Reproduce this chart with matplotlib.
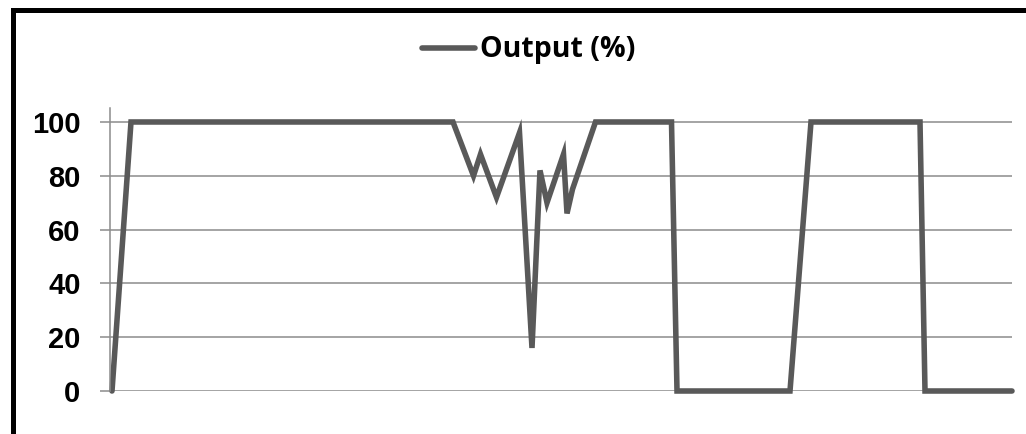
import matplotlib
matplotlib.use('Agg')
import matplotlib.pyplot as plt
from matplotlib.patches import Rectangle

# Sample positions (arbitrary time units) and output level
time_steps = [0, 3.8, 68.2, 72.3, 73.7, 76.9, 81.5, 84.0, 85.6, 87.0, 90.3, 91.0,
              92.1, 96.7, 111.9, 113.0, 135.6, 139.8, 161.6, 162.6, 180.0]
output_pct = [0, 100, 100, 80, 88, 72, 96, 16, 82, 70, 88, 66,
              75, 100, 100, 0, 0, 100, 100, 0, 0]
y_ticks = [0, 20, 40, 60, 80, 100]
series_name = 'Output (%)'

line_color = '#595959'
grid_color = '#8c8c8c'

fig = plt.figure(figsize=(10.26, 4.34), dpi=100)
ax = fig.add_axes([110 / 1026, 1 - 391 / 434, (1012 - 110) / 1026, (391 - 108) / 434])

ax.plot(time_steps, output_pct, color=line_color, linewidth=4, solid_joinstyle='miter',
        solid_capstyle='round', clip_on=False, label=series_name)

ax.set_xlim(-0.4, 180)
ax.set_ylim(0, 105.2)
ax.set_yticks(y_ticks)
ax.set_xticks([])
ax.yaxis.grid(True, color=grid_color, linewidth=1.1)
ax.set_axisbelow(True)

for side in ['top', 'right', 'bottom']:
    ax.spines[side].set_visible(False)
ax.spines['left'].set_color(grid_color)
ax.spines['left'].set_linewidth(1.1)
ax.tick_params(axis='y', length=7.2, width=1.1, color=grid_color, pad=14)
for lbl in ax.get_yticklabels():
    lbl.set_fontfamily('Liberation Sans')
    lbl.set_fontweight('bold')
    lbl.set_fontsize(21)

fig.legend(loc='center', bbox_to_anchor=(529 / 1026, 1 - 50 / 434), frameon=False,
           prop={'family': 'Open Sans', 'weight': 'bold', 'size': 20.5},
           handlelength=1.85, handletextpad=0.2)

# thick black frame around the chart area (cut off at right and bottom)
fig.add_artist(Rectangle((12.5 / 1026, -0.1), 1.2, 1.1 - 9.7 / 434, transform=fig.transFigure,
                         fill=False, edgecolor='black', linewidth=3.6, clip_on=False))

fig.savefig('out.png', dpi=100)
